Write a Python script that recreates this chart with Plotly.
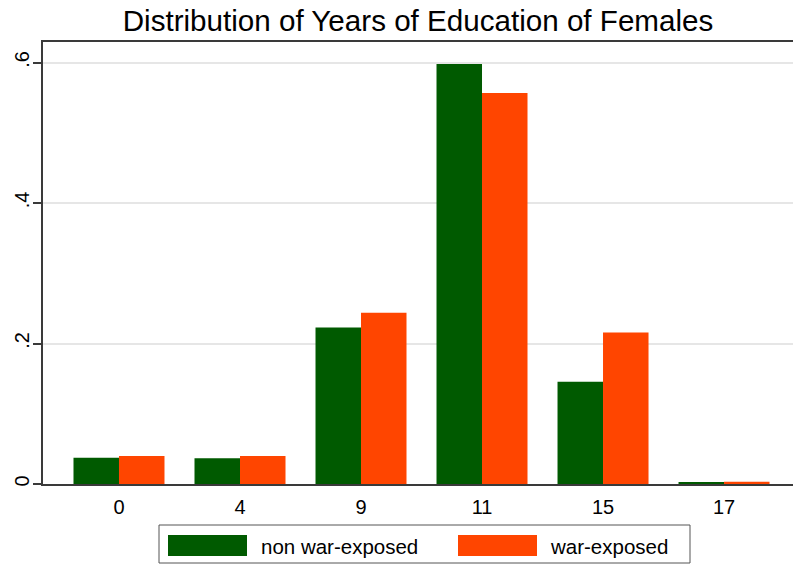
import plotly.graph_objects as go

categories = ["0", "4", "9", "11", "15", "17"]
non_war_exposed = [0.0375, 0.0365, 0.2229, 0.598, 0.1456, 0.0019]
war_exposed = [0.0399, 0.0399, 0.2438, 0.5566, 0.2158, 0.0033]
series_names = ["non war-exposed", "war-exposed"]
y_tick_vals = [0, 0.2, 0.4, 0.6]
y_tick_text = ["0", ".2", ".4", ".6"]

GREEN = "#005a00"
ORANGE = "#ff4500"
AXIS = "#3a3a3a"
FONT = "Liberation Sans, Arial, sans-serif"

W, H = 793, 564
L, R, T, B = 43, 0, 42, 80
PW, PH = W - L - R, H - T - B


def px(x):
    return (x - L) / PW


def py(y):
    return (H - B - y) / PH


fig = go.Figure()
fig.add_trace(go.Bar(x=categories, y=non_war_exposed, name=series_names[0],
                     marker=dict(color=GREEN, line=dict(width=0)), showlegend=False))
fig.add_trace(go.Bar(x=categories, y=war_exposed, name=series_names[1],
                     marker=dict(color=ORANGE, line=dict(width=0)), showlegend=False))

shapes = [
    dict(type="rect", xref="paper", yref="paper", x0=px(159), x1=px(690), y0=py(563), y1=py(525),
         line=dict(color="#555555", width=1), fillcolor="white", layer="above"),
    dict(type="rect", xref="paper", yref="paper", x0=px(168), x1=px(247), y0=py(556), y1=py(535),
         line=dict(width=0), fillcolor=GREEN),
    dict(type="rect", xref="paper", yref="paper", x0=px(458), x1=px(537), y0=py(556), y1=py(535),
         line=dict(width=0), fillcolor=ORANGE),
]
annotations = [
    dict(xref="paper", yref="paper", x=px(259), y=py(546), text=series_names[0], showarrow=False,
         xanchor="left", yanchor="middle", font=dict(size=20.5, color="black", family=FONT)),
    dict(xref="paper", yref="paper", x=px(548), y=py(546), text=series_names[1], showarrow=False,
         xanchor="left", yanchor="middle", font=dict(size=20.5, color="black", family=FONT)),
]

fig.update_layout(
    width=W, height=H,
    margin=dict(l=L, r=R, t=T, b=B),
    paper_bgcolor="white", plot_bgcolor="white",
    font=dict(family=FONT, color="black"),
    title=dict(text="Distribution of Years of Education of Females", x=(L + PW / 2) / W, xanchor="center",
               y=1 - 21 / H, yanchor="middle", font=dict(size=29.6, color="black", family=FONT)),
    barmode="group", bargap=0.248, bargroupgap=0,
    shapes=shapes, annotations=annotations,
    xaxis=dict(type="category", range=[-0.628, 5.570], showgrid=False, ticks="",
               showline=True, linecolor=AXIS, linewidth=1.5, mirror=True,
               tickfont=dict(size=20, color="black"), ticklabelstandoff=4, zeroline=False),
    yaxis=dict(range=[0, 0.6292], tickvals=y_tick_vals, ticktext=y_tick_text, tickangle=-90,
               showgrid=True, gridcolor="#e6e6e6", gridwidth=1.5,
               showline=True, linecolor=AXIS, linewidth=1.5, zeroline=False,
               ticks="outside", ticklen=8, tickcolor=AXIS, tickwidth=1.5,
               tickfont=dict(size=20, color="black"), ticklabelstandoff=-4),
)

fig.write_html("out.html", config={"displayModeBar": False},
               post_script="document.body.style.margin='0';")
